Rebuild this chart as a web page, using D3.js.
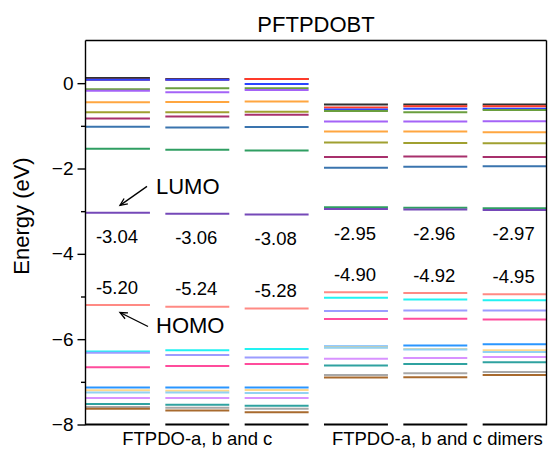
<!DOCTYPE html>
<html>
<head>
<meta charset="utf-8">
<script src="https://cdn.jsdelivr.net/npm/d3@7"></script>
<style>
  html, body { margin: 0; padding: 0; background: #fff; }
  svg { display: block; }
  text { font-family: "Liberation Sans", Arial, Helvetica, sans-serif; fill: #000; }
</style>
</head>
<body>
<svg id="chart" width="548" height="449"></svg>
<script>
// ---------- data ----------
const title = "PFTPDOBT";
const yLabel = "Energy (eV)";
const columns = ["FTPDO-a", "FTPDO-b", "FTPDO-c", "FTPDO-a dimer", "FTPDO-b dimer", "FTPDO-c dimer"];
const groupLabels = ["FTPDO-a, b and c", "FTPDO-a, b and c dimers"];
const groupMembers = [[0, 1, 2], [3, 4, 5]];

const yMajorTicks = [-8, -6, -4, -2, 0];
const yMinorTicks = [-7, -5, -3, -1];

// unoccupied levels, from LUMO upward (LUMO, LUMO+1, ..., LUMO+10), one row per column
const unoccupied = [
  [-3.04, -1.54, -1.02, -0.83, -0.68, -0.45, -0.18, -0.14, 0.08, 0.08, 0.12],
  [-3.06, -1.56, -1.04, -0.78, -0.68, -0.44, -0.21, -0.12, 0.08, 0.08, 0.10],
  [-3.08, -1.58, -1.03, -0.74, -0.67, -0.43, -0.16, -0.12, -0.02, 0.10, 0.10],
  [-2.95, -2.91, -1.98, -1.73, -1.39, -1.13, -0.90, -0.65, -0.62, -0.57, -0.50],
  [-2.96, -2.92, -1.96, -1.72, -1.40, -1.13, -0.90, -0.68, -0.60, -0.54, -0.50],
  [-2.97, -2.93, -1.95, -1.73, -1.41, -1.15, -0.89, -0.63, -0.60, -0.54, -0.50]
];
// occupied levels, from HOMO downward (HOMO, HOMO-1, ..., HOMO-10)
const occupied = [
  [-5.20, -6.29, -6.32, -6.66, -7.13, -7.20, -7.25, -7.38, -7.52, -7.59, -7.63],
  [-5.24, -6.26, -6.37, -6.63, -7.13, -7.21, -7.25, -7.38, -7.54, -7.61, -7.67],
  [-5.28, -6.23, -6.43, -6.58, -7.13, -7.19, -7.26, -7.38, -7.56, -7.63, -7.71],
  [-4.90, -5.03, -5.34, -5.53, -6.17, -6.19, -6.20, -6.46, -6.62, -6.84, -6.90],
  [-4.92, -5.07, -5.33, -5.52, -6.15, -6.23, -6.24, -6.44, -6.58, -6.80, -6.89],
  [-4.95, -5.09, -5.33, -5.54, -6.12, -6.26, -6.30, -6.42, -6.54, -6.77, -6.84]
];
const lumoLabels = ["-3.04", "-3.06", "-3.08", "-2.95", "-2.96", "-2.97"];
const homoLabels = ["-5.20", "-5.24", "-5.28", "-4.90", "-4.92", "-4.95"];

const unoccColors = ["#7548b8", "#2f9e62", "#3a74ae", "#a8306c", "#a0a030", "#ffa640",
                     "#a463f7", "#6a9e3e", "#2a44ff", "#ff3a2a", "#303030"];
const occColors = ["#ff8a84", "#22f2f2", "#9c9cff", "#ff4c9c", "#2a96ff", "#ffd88e",
                   "#92d2f2", "#d892ff", "#2fa2a0", "#a8a8a8", "#a86a2e"];

// ---------- layout ----------
const svg = d3.select("#chart");
const plotLeft = 85.5, plotRight = 546.5, plotTop = 40.5, plotBottom = 424.5;

const x = d3.scaleBand().domain(columns).range([86, 546.6]).paddingInner(0.194).paddingOuter(0);
const y = d3.scaleLinear().domain([-8, 1]).range([plotBottom, plotTop]);

// levels: draw from the top of the chart downward
const levelData = [];
columns.forEach((c, ci) => {
  for (let k = unoccupied[ci].length - 1; k >= 0; k--)
    levelData.push({ col: c, e: unoccupied[ci][k], color: unoccColors[k] });
  for (let k = 0; k < occupied[ci].length; k++)
    levelData.push({ col: c, e: occupied[ci][k], color: occColors[k] });
});

svg.append("g").selectAll("line").data(levelData).join("line")
  .attr("x1", d => x(d.col))
  .attr("x2", d => x(d.col) + x.bandwidth())
  .attr("y1", d => y(d.e))
  .attr("y2", d => y(d.e))
  .attr("stroke", d => d.color)
  .attr("stroke-width", 2);

// frame: left axis, top line, right line, segmented bottom
const frame = svg.append("g").attr("stroke", "#000").attr("stroke-width", 1.4).attr("fill", "none");
frame.append("line").attr("x1", plotLeft).attr("x2", plotLeft).attr("y1", plotTop).attr("y2", plotBottom + 0.7);
frame.append("line").attr("x1", plotLeft).attr("x2", plotRight).attr("y1", plotTop).attr("y2", plotTop);
frame.append("line").attr("x1", plotRight).attr("x2", plotRight).attr("y1", plotTop).attr("y2", plotBottom + 0.7);
columns.forEach((c, ci) => {
  frame.append("line")
    .attr("x1", ci === 0 ? plotLeft : x(c)).attr("x2", x(c) + x.bandwidth())
    .attr("y1", plotBottom).attr("y2", plotBottom).attr("stroke-width", 1.8);
});

// y axis
const yAxis = d3.axisLeft(y).tickValues(yMajorTicks).tickSize(8).tickPadding(4)
  .tickFormat(d3.format("d"));
const gy = svg.append("g").attr("transform", `translate(${plotLeft},0)`).call(yAxis);
gy.select(".domain").remove();
gy.selectAll(".tick line").attr("stroke-width", 1.4);
gy.selectAll(".tick text").attr("font-size", 19).attr("font-family", '"Liberation Sans", Arial, sans-serif');
const gyMinor = svg.append("g").attr("transform", `translate(${plotLeft},0)`)
  .call(d3.axisLeft(y).tickValues(yMinorTicks).tickSize(4.5).tickFormat(""));
gyMinor.select(".domain").remove();
gyMinor.selectAll(".tick line").attr("stroke-width", 1.4);

// y label
svg.append("text")
  .attr("transform", `translate(29,216) rotate(-90)`)
  .attr("text-anchor", "middle").attr("font-size", 22).text(yLabel);

// title
svg.append("text").attr("x", (plotLeft + plotRight) / 2).attr("y", 31.5)
  .attr("text-anchor", "middle").attr("font-size", 22).text(title);

// group labels
groupMembers.forEach((m, gi) => {
  const x0 = x(columns[m[0]]), x1 = x(columns[m[m.length - 1]]) + x.bandwidth();
  svg.append("text").attr("x", (x0 + x1) / 2 + (gi === 1 ? 2 : 0)).attr("y", 445)
    .attr("text-anchor", "middle").attr("font-size", 18.5).text(groupLabels[gi]);
});

// LUMO / HOMO value labels
columns.forEach((c, ci) => {
  const cx = x(c) + x.bandwidth() / 2;
  svg.append("text").attr("x", cx - 1).attr("y", y(unoccupied[ci][0]) + 30.5)
    .attr("text-anchor", "middle").attr("font-size", 18.5).text(lumoLabels[ci]);
  svg.append("text").attr("x", cx - 1).attr("y", y(occupied[ci][0]) - 11.5)
    .attr("text-anchor", "middle").attr("font-size", 18.5).text(homoLabels[ci]);
});

// annotations with arrows (anchored to the first column's LUMO / HOMO)
function arrow(x1, y1, x2, y2) {
  const g = svg.append("g").attr("stroke", "#000").attr("stroke-width", 1.3).attr("fill", "none");
  g.append("line").attr("x1", x1).attr("y1", y1).attr("x2", x2).attr("y2", y2);
  const a = Math.atan2(y2 - y1, x2 - x1), L = 8, s = 0.42;
  g.append("path").attr("d",
    `M${x2 - L * Math.cos(a - s)},${y2 - L * Math.sin(a - s)} L${x2},${y2} L${x2 - L * Math.cos(a + s)},${y2 - L * Math.sin(a + s)}`);
}
const c0 = x(columns[0]);
const yL = y(unoccupied[0][0]), yH = y(occupied[0][0]);
arrow(c0 + 61, yL - 26.5, c0 + 34, yL - 7.5);
svg.append("text").attr("x", c0 + 70).attr("y", yL - 19).attr("font-size", 22).text("LUMO");
arrow(c0 + 62, yH + 21.5, c0 + 34, yH + 7.5);
svg.append("text").attr("x", c0 + 70).attr("y", yH + 28).attr("font-size", 22).text("HOMO");
</script>
</body>
</html>
